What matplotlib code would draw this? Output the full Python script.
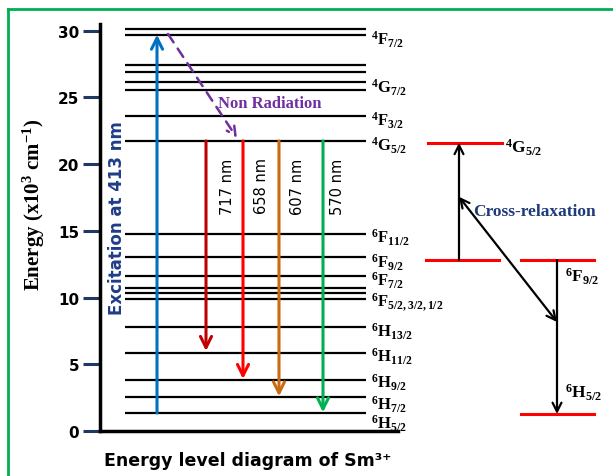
import matplotlib
matplotlib.use('Agg')
import matplotlib.pyplot as plt
from matplotlib.lines import Line2D

plt.rcParams['mathtext.fontset'] = 'custom'
plt.rcParams['mathtext.rm'] = 'Liberation Serif:bold'
plt.rcParams['mathtext.it'] = 'Liberation Serif:bold'
plt.rcParams['mathtext.bf'] = 'Liberation Serif:bold'

# Niveaux d'energie Sm3+ (x10^3 cm-1)
levels = [30.13, 29.69, 27.44, 26.91, 26.16, 25.56, 23.61, 21.74, 14.77, 13.04,
          11.62, 10.72, 10.34, 9.90, 7.80, 5.85, 3.82, 2.55, 1.35]
level_labels = ['4F_{7/2}', '4G_{7/2}', '4F_{3/2}', '4G_{5/2}', '6F_{11/2}', '6F_{9/2}',
                '6F_{7/2}', '6F_{5/2,3/2,1/2}', '6H_{13/2}', '6H_{11/2}', '6H_{9/2}',
                '6H_{7/2}', '6H_{5/2}']
label_pos = [29.4, 25.8, 23.3, 21.45, 14.55, 12.7, 11.3, 9.75, 7.5, 5.6, 3.65, 2.05, 0.6]

# Emissions depuis 4G5/2
emis_nm = ['717 nm', '658 nm', '607 nm', '570 nm']
emis_end = [6.0, 3.9, 2.6, 1.4]
emis_col = ['#C00000', '#FF0000', '#CC6A14', '#00B050']
emis_x = [206, 243, 279, 323]
emis_tx = [228, 262, 298, 337]

exc_lo, exc_hi = 1.35, 29.7
g52 = 21.74

# Cross-relaxation
cr_g52, cr_f92, cr_h52 = 21.6, 12.8, 1.27

yticks = [0, 5, 10, 15, 20, 25, 30]


def lab(s):
    sup, rest = s[0], s[1:]
    letter, sub = rest[0], rest[1:]
    return r'$^{%s}$%s$%s$' % (sup, letter, sub)


W, H = 613, 477
fig = plt.figure(figsize=(W / 100, H / 100), dpi=100)
ax = fig.add_axes([100 / W, 45 / H, 298 / W, 407 / H])
ax.set_xlim(100, 398)
ax.set_ylim(0, 30.5)
for s in ['top', 'right']:
    ax.spines[s].set_visible(False)
ax.spines['left'].set_linewidth(2.5)
ax.spines['bottom'].set_linewidth(2.5)
ax.set_xticks([])
ax.set_yticks(yticks)
ax.tick_params(axis='y', length=12, width=2.2, color='#1F3864', pad=3,
               labelsize=11)
ax.yaxis.get_major_ticks()[0].tick1line.set_color('black')
for t in ax.get_yticklabels():
    t.set_fontweight('bold')
    t.set_family('DejaVu Sans')

# niveaux
ax.hlines(levels, 125, 366, color='black', lw=1.6)
for s, e in zip(level_labels, label_pos):
    ax.text(371, e, lab(s), fontsize=12, family='Liberation Serif',
            fontweight='bold', va='center', ha='left', clip_on=False)

# excitation
ax.annotate('', xy=(157, exc_hi), xytext=(157, exc_lo),
            arrowprops=dict(arrowstyle='->', color='#0070C0', lw=2.2,
                            mutation_scale=20, shrinkA=0, shrinkB=0))
ax.text(117, 16.0, 'Excitation at 413 nm', rotation=90, color='#1F3C88',
        fontsize=12, fontweight='bold', family='DejaVu Sans',
        ha='center', va='center')

# non radiatif
ax.annotate('', xy=(237, 21.96), xytext=(168, 29.75),
            arrowprops=dict(arrowstyle='->', color='#7030A0', lw=1.8,
                            linestyle=(0, (4, 3)), mutation_scale=16,
                            shrinkA=0, shrinkB=0))
ax.text(218, 24.6, 'Non Radiation', color='#7030A0', fontsize=12,
        family='Liberation Serif', fontweight='bold', ha='left', va='center')

# emissions
for x, e, c, tx, t in zip(emis_x, emis_end, emis_col, emis_tx, emis_nm):
    ax.annotate('', xy=(x, e), xytext=(x, g52),
                arrowprops=dict(arrowstyle='->', color=c, lw=2.2,
                                mutation_scale=20, shrinkA=0, shrinkB=0))
    ax.text(tx, 18.4, t, rotation=90, fontsize=10.5, family='DejaVu Sans',
            ha='center', va='center')

# cross-relaxation
kw = dict(color='#FF0000', lw=2.2, clip_on=False)
ax.plot([428, 502], [cr_g52, cr_g52], **kw)
ax.plot([426, 499], [cr_f92, cr_f92], **kw)
ax.plot([521, 594], [cr_f92, cr_f92], **kw)
ax.plot([521, 594], [cr_h52, cr_h52], **kw)
ak = dict(arrowstyle='->', color='black', lw=1.6, mutation_scale=16,
          shrinkA=0, shrinkB=0)
ax.annotate('', xy=(459, cr_g52), xytext=(459, cr_f92), arrowprops=ak,
            annotation_clip=False)
ax.annotate('', xy=(557, cr_h52), xytext=(557, cr_f92), arrowprops=ak,
            annotation_clip=False)
ax.annotate('', xy=(557, 8.17), xytext=(459, 17.55),
            arrowprops=dict(ak, arrowstyle='<->'), annotation_clip=False)
ax.text(505, 21.3, lab('4G_{5/2}'), fontsize=12.5, family='Liberation Serif',
        fontweight='bold', va='center', clip_on=False)
ax.text(565, 11.6, lab('6F_{9/2}'), fontsize=12.5, family='Liberation Serif',
        fontweight='bold', va='center', clip_on=False)
ax.text(565, 2.9, lab('6H_{5/2}'), fontsize=12.5, family='Liberation Serif',
        fontweight='bold', va='center', clip_on=False)
ax.text(473, 16.5, 'Cross-relaxation', color='#1F3A7A', fontsize=12.5,
        family='Liberation Serif', fontweight='bold', va='center',
        clip_on=False)

# titres
fig.text(34 / W, 1 - 205 / H, r'Energy (x10$^{3}$ cm$^{-1}$)', rotation=90,
         fontsize=15, family='Liberation Serif', fontweight='bold',
         ha='center', va='center')
fig.text(248 / W, 1 - 461 / H, 'Energy level diagram of Sm³⁺', fontsize=12.5,
         family=['DejaVu Sans'], fontweight='bold', ha='center', va='center')

# cadre vert
fig.add_artist(Line2D([8 / W, 1], [1 - 10 / H, 1 - 10 / H], color='#00B050', lw=2))
fig.add_artist(Line2D([8 / W, 8 / W], [0, 1 - 10 / H], color='#00B050', lw=2))

fig.savefig('out.png', dpi=100)
